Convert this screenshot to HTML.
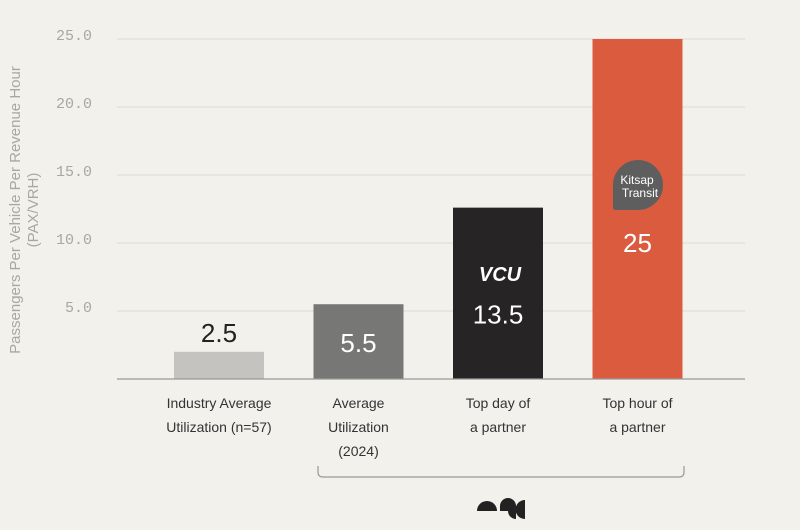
<!DOCTYPE html>
<html><head><meta charset="utf-8"><style>
body{margin:0;background:#f3f1ec;}
svg{display:block;font-family:"Liberation Sans",sans-serif;}
.tick{font-family:"Liberation Mono",monospace;font-size:15px;fill:#a8a7a2;}
.cat{font-size:14px;fill:#333;}
.val{font-size:26px;}
</style></head><body>
<svg id="chart" width="800" height="530">
<g id="grid"></g><g id="bars"></g><g id="labels"></g>
<line x1="117" x2="745" y1="379" y2="379" stroke="#999" stroke-width="1.2"/>
<text transform="translate(22,210) rotate(-90)" text-anchor="middle" font-size="15" fill="#a8a7a2"><tspan x="0" dy="-2">Passengers Per Vehicle Per Revenue Hour</tspan><tspan x="0" dy="18">(PAX/VRH)</tspan></text>
<path d="M318,466 v6 q0,5 5,5 h356 q5,0 5,-5 v-6" fill="none" stroke="#999" stroke-width="1.2"/>
<g fill="#222">
<path d="M477,511 a10,10 0 0 1 20,0 z"/><path d="M500,506 a8,8 0 0 1 16,0 v13 a8,8 0 0 1 -8,-8 h-8z"/><path d="M525,500 v19 a9.5,9.5 0 0 1 0,-19z"/>
</g>
<g><text x="500" y="281" text-anchor="middle" font-size="20" font-weight="bold" font-style="italic" fill="#fff">VCU</text></g>
<g><path d="M613,207 v-22 a25,25 0 1 1 25,25 h-22 q-3,0 -3,-3z" fill="#5e5e5e"/><text x="637" y="184" text-anchor="middle" font-size="12" fill="#fff">Kitsap</text><text x="640" y="197" text-anchor="middle" font-size="12" fill="#fff">Transit</text></g>
</svg>
<script>
const categories=[["Industry Average","Utilization (n=57)"],["Average","Utilization","(2024)"],["Top day of","a partner"],["Top hour of","a partner"]];
const heights=[2.0,5.5,12.6,25];
const valueLabels=["2.5","5.5","13.5","25"];
const ticks=[5,10,15,20,25];
const tickLabels=["5.0","10.0","15.0","20.0","25.0"];
const colors=["#c4c3bf","#777776","#262424","#da5b3e"];
const textColors=["#222","#fff","#fff","#fff"];
const y=v=>379-v*13.6;
const x=i=>174+i*139.5;
const ns="http://www.w3.org/2000/svg";
function mk(t,a,p){const e=document.createElementNS(ns,t);for(const k in a)e.setAttribute(k,a[k]);p.appendChild(e);return e;}
const G=document.getElementById('grid'),B=document.getElementById('bars'),L=document.getElementById('labels');
ticks.forEach((t,i)=>{
 const l=mk('line',{x1:117,x2:745,y1:y(t),y2:y(t),stroke:'#dcdad4','stroke-width':1},G);
 
 
 const tx=mk('text',{x:92,y:y(t)+1,'text-anchor':'end',class:'tick'},G);tx.textContent=tickLabels[i];
 
 
});
heights.forEach((h,i)=>{
 const r=mk('rect',{x:x(i),y:y(h),width:90,height:379-y(h),fill:colors[i]},B);
 
 
 const vy=i==0?y(h)-10:(i==1?y(h)+48:(i==2?y(h)+116:y(h)+213));
 const v=mk('text',{x:x(i)+45,y:vy,'text-anchor':'middle',class:'val',fill:textColors[i]},L);v.textContent=valueLabels[i];
 
 
 const c=mk('text',{x:x(i)+45,y:408,'text-anchor':'middle',class:'cat'},L);
 
 
 categories[i].forEach((s,j)=>{const ts=mk('tspan',{x:x(i)+45,dy:j?24:0},c);ts.textContent=s;});
});
</script>
</body></html>
